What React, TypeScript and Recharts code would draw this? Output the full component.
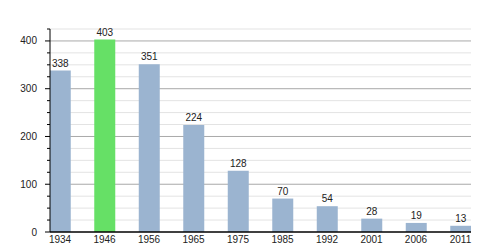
import React from 'react'
import { BarChart, Bar, XAxis, YAxis, CartesianGrid, Cell, LabelList } from 'recharts'

const years = ['1934', '1946', '1956', '1965', '1975', '1985', '1992', '2001', '2006', '2011']
const population = [338, 403, 351, 224, 128, 70, 54, 28, 19, 13]
const highlightYear = '1946'
const yTicks = [0, 25, 50, 75, 100, 125, 150, 175, 200, 225, 250, 275, 300, 325, 350, 375, 400, 425]
const majorValues = [100, 200, 300, 400]
const minorValues = [25, 50, 75, 125, 150, 175, 225, 250, 275, 325, 350, 375, 425]

const FONT = '"Liberation Sans", Arial, sans-serif'
const BLUE = '#9bb4d0'
const GREEN = '#66e066'

const data = years.map((year, i) => ({ idx: i, year, value: population[i] }))

const YTick = (props: any) => {
    const { x, y, payload } = props
    const v = payload.value
    const major = v % 100 === 0
    return (
        <g>
            <line x1={x - (major ? 5 : 3)} x2={x} y1={y} y2={y} stroke="#000" strokeWidth={1} />
            {major && (
                <text x={x - 13} y={y} dy="0.35em" textAnchor="end" fontSize={10} fontFamily={FONT} fill="#222">
                    {v}
                </text>
            )}
        </g>
    )
}

export default function App() {
    return (
        <div style={{ position: 'absolute', left: 0, top: 0, width: 500, height: 250, background: '#fff' }}>
            <BarChart width={500} height={250} data={data} margin={{ top: 29, right: 29, bottom: 0, left: 0 }}>
                <CartesianGrid vertical={false} stroke="#e3e3e3" horizontalValues={minorValues} />
                <CartesianGrid vertical={false} stroke="#a9a9a9" horizontalValues={majorValues} />
                <XAxis
                    dataKey="idx"
                    type="number"
                    domain={[-0.225, 9.236]}
                    ticks={data.map(d => d.idx)}
                    tickFormatter={(i: number) => years[i]}
                    height={18}
                    tickLine={false}
                    tickSize={0}
                    tickMargin={4}
                    axisLine={{ stroke: '#000', strokeWidth: 1.5 }}
                    tick={{ fontSize: 10, fontFamily: FONT, fill: '#222' }}
                    interval={0}
                    allowDataOverflow
                />
                <YAxis
                    type="number"
                    domain={[0, 425]}
                    ticks={yTicks}
                    width={50}
                    tickLine={false}
                    tickSize={0}
                    tickMargin={0}
                    axisLine={{ stroke: '#000', strokeWidth: 1 }}
                    tick={<YTick />}
                    interval={0}
                    allowDataOverflow
                />
                <Bar dataKey="value" barSize={21} isAnimationActive={false}>
                    {data.map(d => (
                        <Cell key={d.year} fill={d.year === highlightYear ? GREEN : BLUE} />
                    ))}
                    <LabelList dataKey="value" position="top" offset={4} fontSize={10} fontFamily={FONT} fill="#222" />
                </Bar>
            </BarChart>
        </div>
    )
}
